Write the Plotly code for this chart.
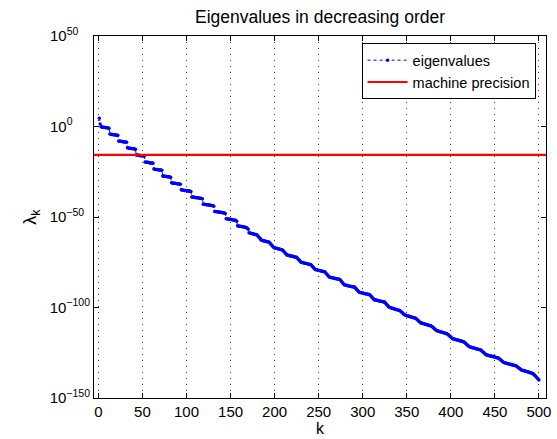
import plotly.graph_objects as go

# log10 of the eigenvalues (k = 1 .. 500)
log10_lambda = [
    4.6, 1.4,
    -0.2, -0.3, -0.4, -0.4, -0.5, -0.6, -0.7, -0.7, -0.8, -0.9,
    -4.2, -4.3, -4.4, -4.4, -4.5, -4.6, -4.7, -4.7, -4.8, -4.9,
    -8.0, -8.1, -8.2, -8.2, -8.3, -8.4, -8.5, -8.5, -8.6, -8.7,
    -11.8, -11.9, -12.0, -12.0, -12.1, -12.2, -12.3, -12.3, -12.4, -12.5,
    -15.7, -15.8, -15.9, -15.9, -16.0, -16.1, -16.2, -16.2, -16.3, -16.4,
    -19.6, -19.7, -19.8, -19.8, -19.9, -20.0, -20.1, -20.1, -20.2, -20.3,
    -23.5, -23.6, -23.7, -23.7, -23.8, -23.9, -24.0, -24.0, -24.1, -24.2,
    -27.3, -27.4, -27.5, -27.5, -27.6, -27.7, -27.8, -27.8, -27.9, -28.0,
    -31.1, -31.2, -31.3, -31.3, -31.4, -31.5, -31.6, -31.6, -31.7, -31.8, -31.9,
    -35.0, -35.1, -35.2, -35.2, -35.3, -35.4, -35.5, -35.5, -35.6, -35.7, -35.8, -35.9,
    -38.9, -39.0, -39.1, -39.1, -39.2, -39.3, -39.4, -39.4, -39.5, -39.6, -39.7, -39.8, -39.9,
    -42.9, -43.0, -43.1, -43.1, -43.2, -43.3, -43.4, -43.4, -43.5, -43.6, -43.7, -43.8, -44.0,
    -46.9, -47.0, -47.1, -47.1, -47.2, -47.3, -47.4, -47.4, -47.5, -47.6, -47.7, -47.8, -48.0,
    -50.9, -51.0, -51.1, -51.1, -51.2, -51.3, -51.4, -51.5, -51.6, -51.7, -51.8, -52.0, -52.3,
    -54.9, -55.0, -55.1, -55.1, -55.2, -55.3, -55.4, -55.5, -55.6, -55.7, -55.9, -56.2, -56.8,
    -58.7, -58.8, -59.0, -59.1, -59.2, -59.4, -59.5, -59.6, -59.7, -59.9, -60.5, -61.1, -61.6, -62.2,
    -62.8, -62.9, -63.1, -63.2, -63.3, -63.5, -63.6, -63.7, -63.8, -64.0, -64.6, -65.2, -65.7, -66.3,
    -66.9, -67.0, -67.2, -67.3, -67.4, -67.6, -67.7, -67.8, -67.9, -68.1, -68.2, -68.8, -69.3, -69.9, -70.4,
    -71.0, -71.1, -71.2, -71.4, -71.5, -71.6, -71.7, -71.8, -72.0, -72.1, -72.2, -72.3, -72.8, -73.4, -73.9, -74.5,
    -75.0, -75.1, -75.2, -75.4, -75.5, -75.6, -75.7, -75.8, -76.0, -76.1, -76.2, -76.3, -76.8, -77.4, -77.9, -78.5,
    -79.0, -79.1, -79.2, -79.4, -79.5, -79.6, -79.7, -79.8, -80.0, -80.1, -80.2, -80.3, -80.9, -81.5, -82.0, -82.6,
    -83.2, -83.3, -83.4, -83.5, -83.6, -83.8, -83.9, -84.0, -84.1, -84.2, -84.3, -84.4, -84.5, -85.1, -85.7, -86.3, -86.9,
    -87.5, -87.6, -87.7, -87.8, -87.9, -88.1, -88.2, -88.3, -88.4, -88.5, -88.6, -88.7, -88.8, -89.4, -89.9, -90.5, -91.0,
    -91.6, -91.7, -91.8, -91.9, -92.0, -92.2, -92.3, -92.4, -92.5, -92.6, -92.7, -92.8, -92.9, -93.5, -94.0, -94.6, -95.1,
    -95.7, -95.8, -95.9, -96.0, -96.1, -96.3, -96.4, -96.5, -96.6, -96.7, -96.8, -96.9, -97.0, -97.6, -98.2, -98.7, -99.3,
    -99.9, -100.0, -100.2, -100.3, -100.5, -100.6, -100.8, -100.9, -101.1, -101.2, -101.4, -101.5, -101.7,
    -102.1, -102.5, -102.9, -103.4, -103.8,
    -104.2, -104.3, -104.5, -104.6, -104.8, -104.9, -105.1, -105.2, -105.4, -105.5, -105.7, -105.8, -106.0,
    -106.4, -106.8, -107.3, -107.7, -108.1,
    -108.5, -108.6, -108.8, -108.9, -109.1, -109.2, -109.4, -109.5, -109.7, -109.8, -110.0, -110.1, -110.3,
    -110.7, -111.1, -111.6, -112.0, -112.4,
    -112.8, -112.9, -113.1, -113.2, -113.4, -113.5, -113.7, -113.8, -114.0, -114.1, -114.3, -114.4, -114.6,
    -115.0, -115.5, -115.9, -116.3, -116.8,
    -117.2, -117.3, -117.5, -117.6, -117.8, -117.9, -118.0, -118.2, -118.3, -118.5, -118.6, -118.7, -118.9, -119.0,
    -119.5, -119.9, -120.4, -120.8, -121.3,
    -121.7, -121.8, -122.0, -122.1, -122.3, -122.4, -122.5, -122.7, -122.8, -123.0, -123.1, -123.2, -123.4, -123.5,
    -123.9, -124.4, -124.8, -125.2, -125.7,
    -126.1, -126.2, -126.4, -126.5, -126.6, -126.8, -126.9, -127.0, -127.1, -127.3, -127.4, -127.5, -127.7, -127.8, -127.9,
    -128.3, -128.7, -129.2, -129.6, -130.0,
    -130.4, -130.5, -130.7, -130.8, -130.9, -131.1, -131.2, -131.3, -131.4, -131.6, -131.7, -131.8, -132.0, -132.1, -132.2,
    -132.6, -133.0, -133.4, -133.7, -134.1,
    -134.5, -134.6, -134.8, -134.9, -135.1, -135.2, -135.4, -135.5, -135.7, -135.8, -136.0, -136.1, -136.3, -136.4,
    -136.9, -137.4, -137.9, -138.4, -138.9, -139.5, -140.0,
]
k = list(range(1, len(log10_lambda) + 1))
eigenvalues = [10.0 ** v for v in log10_lambda]
machine_eps = 2.220446049250313e-16

x_tick_vals = [0, 50, 100, 150, 200, 250, 300, 350, 400, 450, 500]
y_tick_vals = [1e50, 1e0, 1e-50, 1e-100, 1e-150]
FS = "\u2007"
y_tick_text = [
    "10<sup>50" + FS * 2 + "</sup>",
    "10<sup>0" + FS * 3 + "</sup>",
    "10<sup>\u221250" + FS + "</sup>",
    "10<sup>\u2212100</sup>",
    "10<sup>\u2212150</sup>",
]

FONT = "Liberation Sans, Arial, Helvetica, sans-serif"

fig = go.Figure()
fig.add_trace(go.Scatter(
    x=k, y=eigenvalues, mode="lines+markers", name="eigenvalues",
    line=dict(color="#0000ff", width=1, dash="dot"),
    marker=dict(color="#0000ff", size=3.5, line=dict(width=0)),
))
fig.add_hline(
    y=machine_eps, line=dict(color="#ff0000", width=2.2),
    layer="above", showlegend=True, name="machine precision",
)

fig.update_layout(
    width=557, height=439,
    margin=dict(l=94, r=6, t=36, b=40, pad=0),
    paper_bgcolor="white", plot_bgcolor="white",
    font=dict(family=FONT, size=15, color="black"),
    title=dict(text="Eigenvalues in decreasing order", x=0.5, xref="paper",
               xanchor="center", y=1 - 17 / 439, yref="container",
               yanchor="middle", font=dict(size=17.5, color="black")),
    showlegend=True,
    legend=dict(x=0.977, y=0.98, xanchor="right", yanchor="top",
                bgcolor="white", bordercolor="black", borderwidth=1,
                font=dict(size=14.5), itemwidth=40, tracegroupgap=0),
)
fig.update_xaxes(
    range=[-5, 508], tickmode="array", tickvals=x_tick_vals,
    ticks="inside", ticklen=5, tickcolor="black",
    showline=True, linecolor="black", linewidth=1, mirror="ticks",
    showgrid=True, gridcolor="#404040", gridwidth=1, griddash="1px,5px",
    zeroline=False, tickfont=dict(size=15),
    title=dict(text="k", standoff=2, font=dict(size=16)),
)
fig.update_yaxes(
    type="log", range=[-150, 50], tickmode="array",
    tickvals=y_tick_vals, ticktext=y_tick_text,
    ticks="inside", ticklen=5, tickcolor="black",
    showline=True, linecolor="black", linewidth=1, mirror="ticks",
    showgrid=False, zeroline=False, tickfont=dict(size=15),
    title=dict(text="\u03bb<sub>k</sub>", standoff=8, font=dict(size=18)),
)

fig.write_html(
    "out.html",
    config={"displayModeBar": False},
    post_script="document.body.style.margin='0';document.body.style.overflow='hidden';",
)
